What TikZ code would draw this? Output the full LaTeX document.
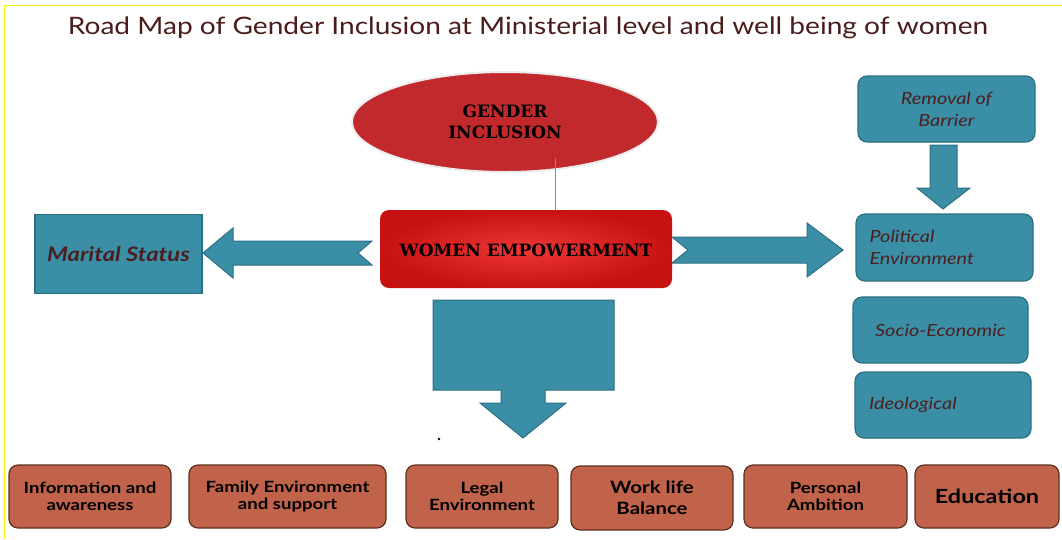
\documentclass[tikz,border=0pt]{standalone}
\usepackage{fontspec}
\setmainfont{Lato}
\newfontfamily\titlefont{Lato}[FakeStretch=1.17]
\newfontfamily\itfont{Lato}[FakeStretch=1.19]
\newfontfamily\bfont{Lato}[FakeStretch=1.2]
\newfontfamily\decofont{DejaVu Serif}
\usetikzlibrary{shapes.geometric}
\definecolor{tealfill}{HTML}{3A8FA6}
\definecolor{tealline}{HTML}{2B6F82}
\definecolor{brownink}{HTML}{4B1F1F}
\definecolor{terra}{HTML}{C0634A}
\definecolor{terraline}{HTML}{5A3020}
\definecolor{redell}{HTML}{C2292D}
\definecolor{redin}{HTML}{EE3636}
\definecolor{redout}{HTML}{C81212}
\definecolor{titleink}{HTML}{4A1C1C}
\definecolor{linkline}{HTML}{5E9DB0}
\tikzset{
  tealbox/.style={draw=tealline, line width=1.2pt, fill=tealfill, rounded corners=9pt, text=brownink, font=\itfont\itshape\fontsize{16.7}{22}\selectfont, inner sep=0pt},
  terrabox/.style={draw=terraline, line width=1.2pt, fill=terra, rounded corners=9pt, text=black, font=\bfont\bfseries\fontsize{15.5}{17}\selectfont, align=center, inner sep=0pt},
  blockarrow/.style={draw=tealline, line width=1pt, fill=tealfill},
}
\begin{document}
\begin{tikzpicture}[x=1pt,y=-1pt]
\useasboundingbox (0,0) rectangle (1062,539);
% frame lines
\draw[yellow, line width=1pt] (4,5) -- (1062,5);
\draw[yellow, line width=1pt] (4,5) -- (4,539);
% title
\node[text=titleink, font=\titlefont\fontsize{24}{28}\selectfont] (title) at (528,28) {Road Map of Gender Inclusion at Ministerial level and well being of women};
% gender inclusion ellipse
\node[ellipse, draw=white!85!gray, line width=2pt, fill=redell, minimum width=306pt, minimum height=100pt, inner sep=0pt, font=\decofont\bfseries\fontsize{17}{21}\selectfont, align=center] (gender) at (505,122) {GENDER\\INCLUSION};
% arrows (drawn before the central box)
\draw[blockarrow] (203,253) -- (233,228) -- (233,241) -- (372,241) -- (358,253) -- (372,265) -- (233,265) -- (233,278) -- cycle;
\draw[blockarrow] (672,237) -- (807,237) -- (807,223) -- (843,250) -- (807,277) -- (807,263) -- (672,263) -- (688,250) -- cycle;
% women empowerment
\path[rounded corners=9pt, inner color=redin, outer color=redout] (380,210) rectangle (672,288);
\node[font=\decofont\bfseries\fontsize{17}{20}\selectfont, inner sep=0pt] (women) at (526,250) {WOMEN EMPOWERMENT};
\node[minimum width=292pt, minimum height=78pt, inner sep=0pt] (womenbox) at (526,249) {};
% connector
\coordinate (gl) at (555,158);
\draw[color=linkline, line width=0.9pt] (gl) -- (gl |- womenbox.north);
% marital status
\node[tealbox, rounded corners=0pt, font=\itfont\bfseries\itshape\fontsize{20}{22}\selectfont, minimum width=167pt, minimum height=79pt] (marital) at (118.5,254) {Marital Status};
% big down arrow
\draw[blockarrow] (433,300) -- (614,300) -- (614,390) -- (545,390) -- (545,403) -- (566,403) -- (523,438) -- (480,403) -- (501,403) -- (501,390) -- (433,390) -- cycle;
\fill[black] (439,439) circle (1.3pt);
% right column
\node[tealbox, minimum width=177pt, minimum height=66pt, align=center] (removal) at (946.5,109) {Removal of\\Barrier};
\draw[blockarrow] (930,145) -- (957,145) -- (957,188) -- (970,188) -- (943,209) -- (917,188) -- (930,188) -- cycle;
\node[tealbox, minimum width=177pt, minimum height=67pt, align=left, text width=150pt] (political) at (944.5,247.5) {Political\\Environment};
\node[tealbox, minimum width=175pt, minimum height=66pt, align=center] (socio) at (940.5,330) {Socio-Economic};
\node[tealbox, minimum width=176pt, minimum height=66pt, align=left, text width=148pt] (ideol) at (943,405) {Ideological};
% bottom row
\node[terrabox, minimum width=162pt, minimum height=63pt] (info) at (90,496.5) {Information and\\awareness};
\node[terrabox, minimum width=197pt, minimum height=63pt] (family) at (287.5,496.5) {Family Environment\\and support};
\node[terrabox, minimum width=152pt, minimum height=63pt] (legal) at (482,496.5) {Legal\\Environment};
\node[terrabox, minimum width=162pt, minimum height=64pt, font=\bfont\bfseries\fontsize{17}{21}\selectfont] (work) at (652,498) {Work life\\Balance};
\node[terrabox, minimum width=163pt, minimum height=63pt] (personal) at (825.5,496.5) {Personal\\Ambition};
\node[terrabox, minimum width=144pt, minimum height=63pt, font=\bfont\bfseries\fontsize{19.5}{22}\selectfont] (edu) at (987,496.5) {Education};
\end{tikzpicture}
\end{document}
